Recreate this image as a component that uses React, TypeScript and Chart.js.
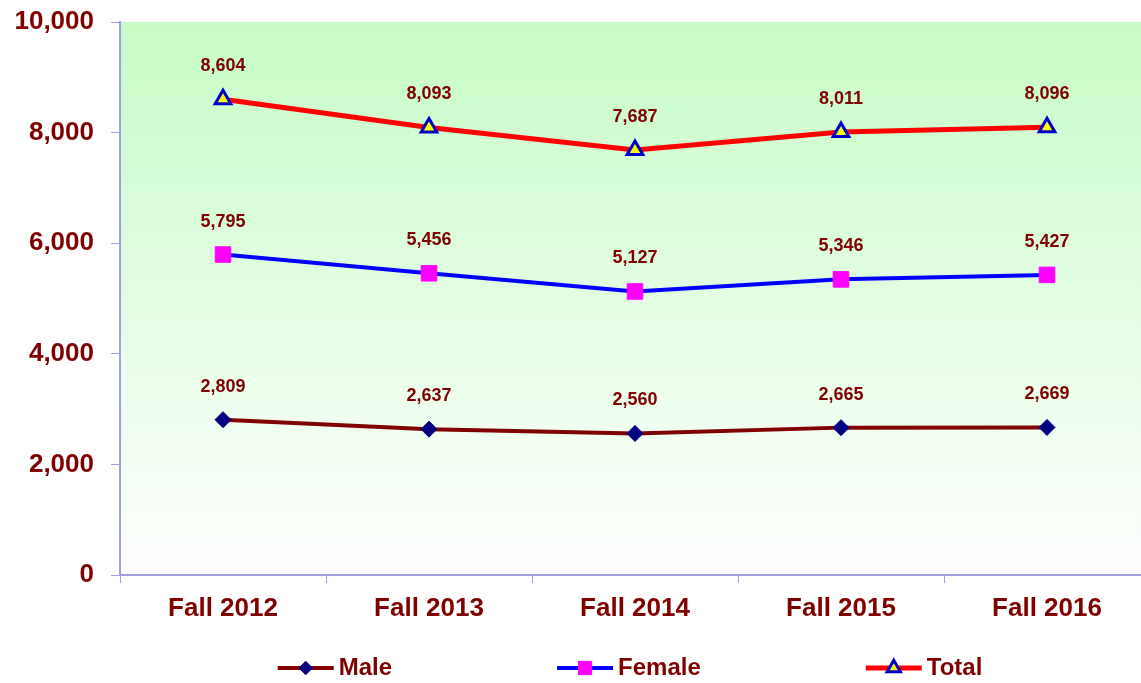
import React, { useEffect, useRef } from "react";
import { Chart, registerables } from "chart.js";
import { drawPoint } from "chart.js/helpers";

Chart.register(...registerables);

const categories = ["Fall 2012", "Fall 2013", "Fall 2014", "Fall 2015", "Fall 2016"];
const maleValues = [2809, 2637, 2560, 2665, 2669];
const femaleValues = [5795, 5456, 5127, 5346, 5427];
const totalValues = [8604, 8093, 7687, 8011, 8096];
const yMax = 10000;
const yStep = 2000;

const FONT = "'Liberation Sans', Arial, sans-serif";
const TEXT_COLOR = "#800000";
const AXIS_COLOR = "#a09ce0";

const fmt = (v: number) => v.toLocaleString("en-US");

const bgPlugin = {
  id: "bgGradient",
  beforeDraw(chart: any) {
    const { ctx, chartArea } = chart;
    if (!chartArea) return;
    const g = ctx.createLinearGradient(0, chartArea.top, 0, chartArea.bottom);
    g.addColorStop(0, "#c6fcc6");
    g.addColorStop(1, "#ffffff");
    ctx.save();
    ctx.fillStyle = g;
    ctx.fillRect(chartArea.left, chartArea.top, chartArea.right - chartArea.left, chartArea.bottom - chartArea.top);
    ctx.restore();
  },
};

const labelPlugin = {
  id: "valueLabels",
  afterDatasetsDraw(chart: any) {
    const { ctx } = chart;
    ctx.save();
    ctx.font = `bold 18px ${FONT}`;
    ctx.fillStyle = TEXT_COLOR;
    ctx.textAlign = "center";
    ctx.textBaseline = "middle";
    chart.data.datasets.forEach((ds: any, i: number) => {
      const meta = chart.getDatasetMeta(i);
      meta.data.forEach((pt: any, j: number) => {
        ctx.fillText(fmt(ds.data[j]), pt.x, pt.y - 33);
      });
    });
    ctx.restore();
  },
};

const legendPlugin = {
  id: "customLegend",
  afterDraw(chart: any) {
    const { ctx, chartArea } = chart;
    const ds = chart.data.datasets;
    ctx.save();
    ctx.font = `bold 24px ${FONT}`;
    const lineW = 56;
    const textGap = 5;
    const itemGap = 165;
    const widths = ds.map((d: any) => lineW + textGap + ctx.measureText(d.label).width);
    const totalW = widths.reduce((a: number, b: number) => a + b, 0) + itemGap * (ds.length - 1);
    let x = (chartArea.left + chartArea.right) / 2 - 5 - totalW / 2;
    const y = chart.height - 15;
    ds.forEach((d: any, i: number) => {
      ctx.strokeStyle = d.borderColor;
      ctx.lineWidth = d.borderWidth;
      ctx.beginPath();
      ctx.moveTo(x, y);
      ctx.lineTo(x + lineW, y);
      ctx.stroke();
      ctx.fillStyle = d.pointBackgroundColor;
      ctx.strokeStyle = d.pointBorderColor;
      ctx.lineWidth = d.pointBorderWidth;
      drawPoint(ctx, { pointStyle: d.pointStyle, radius: d.pointRadius * 0.85, rotation: 0, borderWidth: d.pointBorderWidth }, x + lineW / 2, y);
      ctx.fillStyle = TEXT_COLOR;
      ctx.textAlign = "left";
      ctx.textBaseline = "middle";
      ctx.fillText(d.label, x + lineW + textGap, y);
      x += widths[i] + itemGap;
    });
    ctx.restore();
  },
};

export default function App() {
  const ref = useRef<HTMLCanvasElement | null>(null);
  useEffect(() => {
    document.body.style.overflow = "hidden";
    const canvas = ref.current!;
    const chart = new Chart(canvas, {
      type: "line",
      data: {
        labels: categories,
        datasets: [
          {
            label: "Male",
            data: maleValues,
            borderColor: "#800000",
            borderWidth: 4,
            pointStyle: "rectRot",
            pointRadius: 8,
            pointBackgroundColor: "#000080",
            pointBorderColor: "#000080",
            pointBorderWidth: 1,
          },
          {
            label: "Female",
            data: femaleValues,
            borderColor: "#0000ff",
            borderWidth: 4,
            pointStyle: "rect",
            pointRadius: 11,
            pointBackgroundColor: "#ff00ff",
            pointBorderColor: "#ff00ff",
            pointBorderWidth: 1,
          },
          {
            label: "Total",
            data: totalValues,
            borderColor: "#ff0000",
            borderWidth: 5,
            pointStyle: "triangle",
            pointRadius: 9,
            pointBackgroundColor: "#ffff00",
            pointBorderColor: "#0000cc",
            pointBorderWidth: 3,
          },
        ] as any,
      },
      options: {
        responsive: false,
        animation: false,
        devicePixelRatio: 1,
        layout: { padding: { top: 22, right: 0, left: 0, bottom: 58 } },
        plugins: { legend: { display: false }, tooltip: { enabled: false } },
        scales: {
          x: {
            offset: true,
            grid: {
              offset: true,
              drawOnChartArea: false,
              drawTicks: true,
              tickLength: 8,
              color: AXIS_COLOR,
            },
            border: { display: true, color: AXIS_COLOR, width: 2 },
            ticks: {
              color: TEXT_COLOR,
              font: { family: FONT, size: 26, weight: "bold" },
              padding: 10,
              maxRotation: 0,
              autoSkip: false,
            },
            afterFit: (scale: any) => {
              scale.height = 50;
            },
          },
          y: {
            min: 0,
            max: yMax,
            grid: {
              drawOnChartArea: false,
              drawTicks: true,
              tickLength: 9,
              color: AXIS_COLOR,
            },
            border: { display: true, color: AXIS_COLOR, width: 2 },
            ticks: {
              stepSize: yStep,
              color: TEXT_COLOR,
              font: { family: FONT, size: 26, weight: "bold" },
              padding: 17,
              callback: (v: any) => fmt(Number(v)),
            },
            afterFit: (scale: any) => {
              scale.width = 120;
              scale.paddingTop = 0;
              scale.paddingBottom = 0;
            },
          },
        },
      } as any,
      plugins: [bgPlugin, labelPlugin, legendPlugin],
    });
    return () => chart.destroy();
  }, []);
  return (
    <canvas
      ref={ref}
      width={1162}
      height={683}
      style={{ position: "absolute", left: 0, top: 0, width: 1162, height: 683 }}
    />
  );
}
